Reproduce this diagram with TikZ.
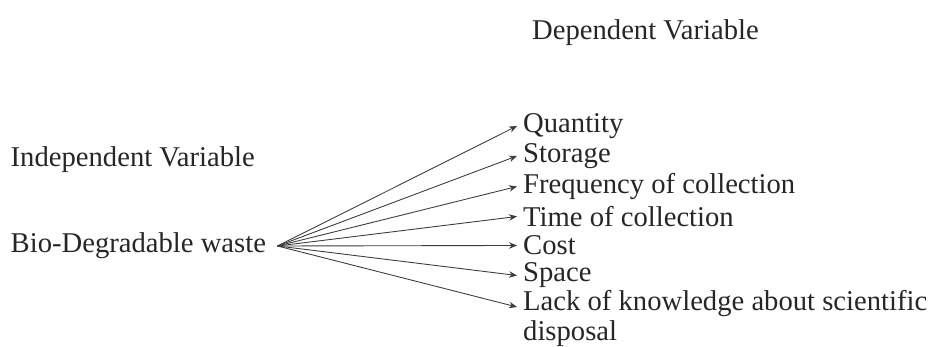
\documentclass[tikz,border=0pt]{standalone}
\usepackage{xcolor}
\usepackage{tikz}
\usepackage{fontspec}
\setmainfont{Liberation Serif}
\usetikzlibrary{arrows.meta, positioning}
\definecolor{linegray}{RGB}{60, 60, 60}

\begin{document}
\begin{tikzpicture}[
    label/.style={font=\fontsize{16.3}{16.6}\selectfont, text=black!85, align=left},
    item/.style={label, anchor=west},
    arrow/.style={-{Stealth[length=1.6mm, width=1.3mm]}, line width=0.5pt, draw=linegray}
]
\useasboundingbox (0,0) rectangle (18.7,6.94);

% Headings
\node[label] (dep) at (12.91,6.28) {Dependent Variable};
\node[item] (indep) at (0.09,3.74) {Independent Variable};

% Independent variable
\node[item] (bio) at (0.09,2.02) {Bio-Degradable waste};

% Dependent variables
\node[item] (qty) at (10.34,4.42) {Quantity};
\node[item] (sto) at (10.34,3.82) {Storage};
\node[item] (freq) at (10.34,3.21) {Frequency of collection};
\node[item] (time) at (10.34,2.61) {Time of collection};
\node[item] (cost) at (10.34,2.03) {Cost};
\node[item] (space) at (10.34,1.43) {Space};
\node[label, anchor=north west] (lack) at (10.34,1.25) {Lack of knowledge about scientific\\disposal};

% Connectors
\draw[arrow] ([xshift=3pt]bio.east) -- (qty.west);
\draw[arrow] ([xshift=3pt]bio.east) -- (sto.west);
\draw[arrow] ([xshift=3pt]bio.east) -- (freq.west);
\draw[arrow] ([xshift=3pt]bio.east) -- (time.west);
\draw[arrow] ([xshift=3pt]bio.east) -- (cost.west);
\draw[arrow] ([xshift=3pt]bio.east) -- (space.west);
\draw[arrow] ([xshift=3pt]bio.east) -- ([yshift=-12.8pt]lack.north west);

\end{tikzpicture}
\end{document}
